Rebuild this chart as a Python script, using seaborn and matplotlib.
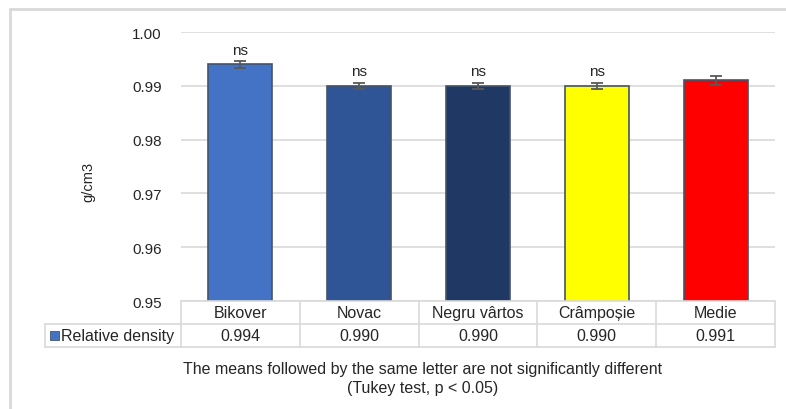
import matplotlib
matplotlib.use("Agg")
import matplotlib.pyplot as plt
from matplotlib.patches import Rectangle
from matplotlib.lines import Line2D
import matplotlib.transforms as mtransforms
import seaborn as sns
import pandas as pd

# Data
cultivars = ["Bikover", "Novac", "Negru vârtos", "Crâmpoșie", "Medie"]
density = [0.994, 0.990, 0.990, 0.990, 0.991]
density_err = [0.0006, 0.0006, 0.0006, 0.0006, 0.0009]
letters = ["ns", "ns", "ns", "ns", ""]
value_labels = ["0.994", "0.990", "0.990", "0.990", "0.991"]
series_name = "Relative density"
bar_colors = ["#4472C4", "#2F5597", "#203864", "#FFFF00", "#FF0000"]
y_ticks = [0.95, 0.96, 0.97, 0.98, 0.99, 1.00]

sns.set_theme(style="white")
plt.rcParams["font.family"] = ["Liberation Sans", "DejaVu Sans"]

W, H = 786, 410
fig = plt.figure(figsize=(W / 100, H / 100), dpi=100)
fig.patch.set_facecolor("white")

def fx(px):
    return px / W

def fy(py):
    return 1 - py / H

txt_c = "#262626"
ax_left, ax_right, ax_top, ax_bottom = 181, 775, 33, 302
ax = fig.add_axes([fx(ax_left), fy(ax_bottom), fx(ax_right - ax_left), fy(ax_top) - fy(ax_bottom)])

df = pd.DataFrame({"cultivar": cultivars, "density": density})
sns.barplot(data=df, x="cultivar", y="density", hue="cultivar", palette=bar_colors,
            saturation=1, width=0.54, edgecolor="#44546A", linewidth=1.2, legend=False,
            ax=ax, zorder=3)
ax.errorbar(range(len(cultivars)), density, yerr=density_err, fmt="none",
            ecolor="#595959", elinewidth=1.3, capsize=4, capthick=1.3, zorder=4)

for i, (v, e, t) in enumerate(zip(density, density_err, letters)):
    if t:
        ax.text(i, v + e + 0.0008, t, ha="center", va="bottom", fontsize=11, color=txt_c)

ax.set_ylim(0.95, 1.00)
ax.set_xlim(-0.5, len(cultivars) - 0.5)
ax.set_yticks(y_ticks)
ax.set_yticklabels([f"{t:.2f}" for t in y_ticks], fontsize=11, color=txt_c)
ax.tick_params(axis="y", length=0, pad=14)
ax.set_xticks([])
ax.set_xlabel("")
ax.set_ylabel("g/cm3", fontsize=10.5, color=txt_c)
ax.yaxis.set_label_coords((95 - ax_left) / (ax_right - ax_left),
                          (ax_bottom - 182) / (ax_bottom - ax_top))
ax.grid(axis="y", color="#D9D9D9", linewidth=1.2, zorder=0)
ax.set_axisbelow(True)
for s in ax.spines.values():
    s.set_visible(False)

# Data table under the axis
line_c = "#D9D9D9"
blend = mtransforms.blended_transform_factory(ax.transData, fig.transFigure)
row1_top, row1_bot, row2_bot = fy(302), fy(325), fy(348)
n = len(cultivars)
for yy in (row1_top, row1_bot, row2_bot):
    fig.add_artist(Line2D([-0.5, n - 0.5], [yy, yy], transform=blend, color=line_c, lw=1.2))
for k in range(n + 1):
    fig.add_artist(Line2D([k - 0.5, k - 0.5], [row2_bot, row1_top], transform=blend, color=line_c, lw=1.2))
label_left = fx(45)
x_ax0 = fx(ax_left)
fig.add_artist(Line2D([label_left, x_ax0], [row1_bot, row1_bot], color=line_c, lw=1.2))
fig.add_artist(Line2D([label_left, x_ax0], [row2_bot, row2_bot], color=line_c, lw=1.2))
fig.add_artist(Line2D([label_left, label_left], [row2_bot, row1_bot], color=line_c, lw=1.2))

for i, (name, val) in enumerate(zip(cultivars, value_labels)):
    fig.text(i, (row1_top + row1_bot) / 2, name, transform=blend, fontsize=11.5,
             ha="center", va="center", color=txt_c)
    fig.text(i, (row1_bot + row2_bot) / 2, val, transform=blend, fontsize=11.5,
             ha="center", va="center", color=txt_c)

mid2 = (row1_bot + row2_bot) / 2
fig.add_artist(Rectangle((fx(50), mid2 - 4.5 / H), 9 / W, 9 / H, transform=fig.transFigure,
                         facecolor=bar_colors[0], edgecolor="#44546A", lw=0.6))
fig.text(fx(61), mid2, series_name, fontsize=11.5, ha="left", va="center", color=txt_c)

# Footnote
fig.text(fx(423), fy(370), "The means followed by the same letter are not significantly different",
         fontsize=11.5, ha="center", va="center", color=txt_c)
fig.text(fx(423), fy(389), "(Tukey test, p < 0.05)", fontsize=11.5, ha="center", va="center",
         color=txt_c)

# Chart area frame
fig.add_artist(Line2D([fx(10), fx(10)], [fy(10), 0], color=line_c, lw=2))
fig.add_artist(Line2D([fx(10), 1], [fy(10), fy(10)], color=line_c, lw=2))

fig.savefig("out.png", dpi=100)
